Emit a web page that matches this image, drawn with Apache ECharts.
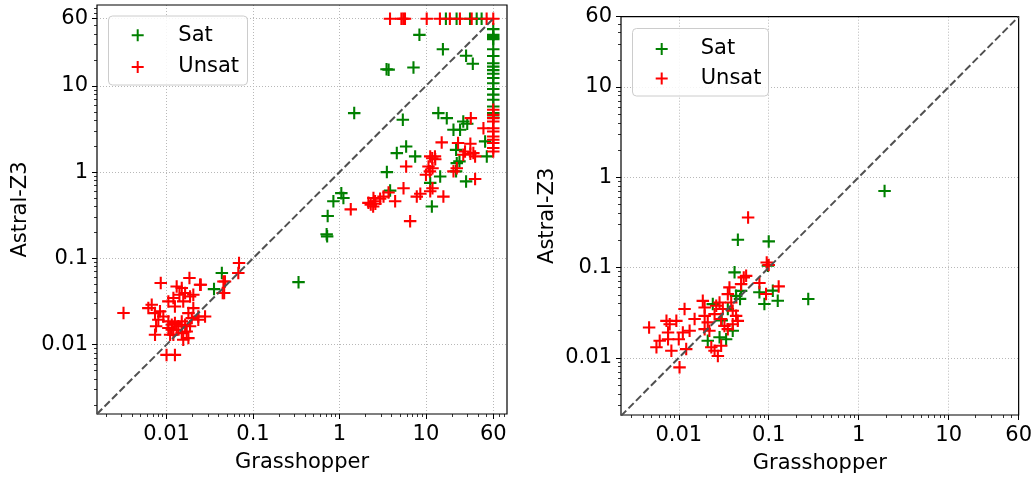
<!DOCTYPE html>
<html>
<head>
<meta charset="utf-8">
<script src="https://cdn.jsdelivr.net/npm/echarts@6/dist/echarts.min.js"></script>
<style>html,body{margin:0;padding:0;background:#fff;}#c{width:1035px;height:479px;}</style>
</head>
<body>
<div id="c"></div>
<script>
// ---------- data ----------
const majorTicks = [0.01, 0.1, 1, 10, 60];
const minorTicks = [0.002,0.003,0.004,0.005,0.006,0.007,0.008,0.009,
  0.02,0.03,0.04,0.05,0.06,0.07,0.08,0.09,
  0.2,0.3,0.4,0.5,0.6,0.7,0.8,0.9,
  2,3,4,5,6,7,8,9,
  20,30,40,50,70,80];
const seriesNames = ['Sat', 'Unsat'];
const axisTitleX = 'Grasshopper';
const axisTitleY = 'Astral-Z3';

const leftSat = [
  [17,60],[22.6,60],[32.3,60],[38.6,60],[44,60],
  [60,45.4],[60,39],[60,36.7],[60,34.8],[60,26.6],[60,22.2],[60,18.3],[60,16.7],[60,15.2],
  [60,13.8],[60,12.3],[60,10.7],[60,9.2],[60,7.9],[60,6.9],[60,5.75],[60,4.83],[60,4.3],
  [8.4,39],[15.7,26.6],[29.1,22.3],[34.8,18],[3.5,15.6],[3.7,15.4],[7.17,16.3],
  [1.48,4.83],[5.4,4.04],[13.9,4.83],[17.4,4.22],[20.8,3.09],[24.8,3.09],[27,3.86],[30,3.63],
  [5.9,1.98],[4.6,1.66],[7.5,1.52],[3.53,1.0],[3.85,0.61],[1.05,0.57],[1.11,0.5],[0.85,0.46],
  [0.73,0.31],[0.71,0.19],[0.72,0.18],[0.336,0.053],[0.0436,0.0676],[0.0354,0.044],
  [11.2,0.75],[11.7,0.4],[14.6,0.89],[22.3,1.81],[22.7,1.27],[24.4,1.33],[22.3,1.02],
  [29.1,0.78],[50.5,1.52],[48.3,2.27]
];
const leftUnsat = [
  [3.84,60],[5.2,60],[5.46,60],[5.72,60],[10.2,60],[14.5,60],[18.9,60],[24.7,60],[33.8,60],[50.3,60],[60,60],
  [60,5.27],[60,4.61],[60,4.22],[60,3.86],[60,3.23],[60,2.96],[60,2.59],[60,2.37],[60,2.17],[60,1.9],[60,1.73],
  [46.2,3.23],[33,4.22],[15.2,2.21],[23.5,2.17],[32.6,2.13],[28.3,1.73],[35.3,1.66],[27,1.59],[32.6,1.63],
  [37,1.52],[11.2,1.52],[12.7,1.52],[12.8,1.41],[11.8,1.45],[10.7,1.16],[11.9,1.11],[10,0.93],[20.8,1.02],
  [22.7,1.11],[37,0.83],[5.9,1.16],[5.5,0.65],[6.56,0.27],[7.83,0.52],[8.6,0.56],[11.2,0.6],[11.9,0.65],
  [15.9,0.52],[4.4,0.46],[3.69,0.58],[3.23,0.52],[2.95,0.49],[2.58,0.46],[2.47,0.5],[2.3,0.42],[2.45,0.4],
  [2.6,0.43],[2.16,0.44],[1.35,0.37],[11.1,1.02],
  [0.00318,0.0233],[0.00857,0.0517],[0.0184,0.0591],[0.0244,0.0494],[0.0689,0.0882],[0.0474,0.054],
  [0.0446,0.0396],[0.0676,0.0676],[0.0131,0.0472],[0.015,0.0453],[0.0141,0.0379],[0.0164,0.0396],
  [0.0187,0.0362],[0.0204,0.0379],[0.012,0.0347],[0.0105,0.0317],[0.0125,0.0277],[0.0156,0.0317],
  [0.00616,0.0265],[0.00674,0.029],[0.00736,0.0232],[0.0084,0.0243],[0.00918,0.0212],[0.00804,0.0194],
  [0.00757,0.0163],[0.00736,0.013],[0.0105,0.0186],[0.0115,0.017],[0.0125,0.0178],[0.0137,0.0163],
  [0.015,0.0186],[0.0164,0.017],[0.0131,0.0149],[0.0115,0.0149],[0.0105,0.0156],[0.015,0.0136],
  [0.0171,0.0142],[0.0187,0.0163],[0.0196,0.0203],[0.0179,0.0232],[0.0204,0.0265],[0.0233,0.0212],
  [0.0279,0.0212],[0.0179,0.0119],[0.0156,0.0114],[0.012,0.013],[0.011,0.013],[0.01,0.0076],
  [0.0125,0.0076],[0.0249,0.0494],[0.0233,0.0194],[0.0455,0.054],[0.0464,0.0396]
];
const rightSat = [
  [1.94,0.706],[0.0454,0.203],[0.1,0.195],[0.0417,0.0885],[0.275,0.0449],[0.0788,0.0532],
  [0.0895,0.0395],[0.126,0.043],[0.111,0.0555],[0.0493,0.0552],[0.0434,0.0486],[0.0239,0.0394],
  [0.0351,0.0347],[0.0398,0.02],[0.021,0.0155],[0.0284,0.0169],[0.0336,0.0161],[0.098,0.105],
  [0.03,0.026],[0.048,0.045]
];
const rightUnsat = [
  [0.059,0.358],[0.095,0.114],[0.1,0.107],[0.0528,0.0778],[0.0788,0.0675],[0.129,0.0619],[0.0934,0.0509],
  [0.00468,0.0217],[0.0073,0.0257],[0.00793,0.0236],[0.0094,0.0257],[0.0076,0.0191],[0.0076,0.0161],
  [0.00614,0.0155],[0.00565,0.0131],[0.00828,0.012],[0.0102,0.00785],[0.01,0.0161],[0.0121,0.0125],
  [0.0111,0.0191],[0.0132,0.02],[0.0116,0.0347],[0.015,0.0269],[0.0185,0.0428],[0.0194,0.0362],
  [0.0194,0.0292],[0.021,0.0247],[0.0194,0.0208],[0.0219,0.02],[0.023,0.0131],[0.025,0.012],
  [0.0272,0.0105],[0.0296,0.0136],[0.025,0.0305],[0.0261,0.0377],[0.0284,0.0411],[0.0309,0.0347],
  [0.0296,0.0269],[0.0322,0.0226],[0.0351,0.0208],[0.0366,0.0603],[0.0351,0.0508],[0.0383,0.0411],
  [0.0398,0.0332],[0.0434,0.0292],[0.0453,0.0257],[0.0398,0.0236],[0.0561,0.081],[0.0493,0.0655]
];
const leftRange = [0.00157, 86.5];
const rightRangeX = [0.00228, 60];
const rightRangeY = [0.00233, 60];
const diagLeft = [[0.00157, 0.00157], [60, 60]];
const diagRight = [[0.00228, 0.00228], [60, 60]];

// ---------- styling ----------
const FONT = 'DejaVu Sans';
const PLUS = 'path://M5,0H7V5H12V7H7V12H5V7H0V5H5Z';
const GREEN = '#008000', RED = '#ff0000';
const fmt = v => String(+(+v).toPrecision(6));

function mainAxis(dim, gridIndex, range, name, nameGap) {
  return {
    type: 'log', logBase: 10, gridIndex, min: range[0], max: range[1], z: 0,
    position: dim === 'x' ? 'bottom' : 'left',
    name, nameLocation: 'middle', nameGap,
    nameTextStyle: { fontSize: 21, fontFamily: FONT, color: '#000' },
    axisLine: { show: false },
    axisTick: { show: true, length: 5, inside: false, customValues: majorTicks, lineStyle: { color: '#000', width: 1 } },
    axisLabel: { show: true, customValues: majorTicks, formatter: fmt, margin: dim === 'x' ? 10 : 9,
      fontSize: 21, fontFamily: FONT, color: '#000' },
    splitLine: { show: true, lineStyle: { color: '#b8b8b8', width: 1, type: [1, 2] } },
    minorTick: { show: false }, minorSplitLine: { show: false }
  };
}
function minorAxis(dim, gridIndex, range) {
  return {
    type: 'log', logBase: 10, gridIndex, min: range[0], max: range[1], z: 0,
    position: dim === 'x' ? 'bottom' : 'left',
    axisLine: { show: false },
    axisTick: { show: true, length: 3, inside: false, customValues: minorTicks, lineStyle: { color: '#000', width: 0.8 } },
    axisLabel: { show: false },
    splitLine: { show: false }
  };
}
function scatter(name, data, xi, yi, color) {
  return { type: 'scatter', name, data, xAxisIndex: xi, yAxisIndex: yi,
    symbol: PLUS, symbolSize: 12.5, itemStyle: { color, opacity: 1 }, z: 2, silent: true };
}
function diag(data, xi, yi) {
  return { type: 'line', data, xAxisIndex: xi, yAxisIndex: yi, symbol: 'none', silent: true, z: 3,
    clip: true, lineStyle: { color: '#505050', width: 2, type: [7.4, 3.2] } };
}
function legend(markerX, top, gap, textPad) {
  return { orient: 'vertical', left: markerX - 6, top, itemWidth: 12, itemHeight: 12, itemGap: gap, padding: 0,
    selectedMode: false, z: 12,
    textStyle: { fontSize: 21, fontFamily: FONT, color: '#000', padding: [0, 0, 0, textPad] },
    data: seriesNames.map(n => ({ name: n, icon: PLUS })) };
}

const chart = echarts.init(document.getElementById('c'), null, { renderer: 'canvas' });
chart.setOption({
  animation: false,
  backgroundColor: '#fff',
  grid: [
    { left: 97, top: 5, width: 410, height: 409, show: true, z: 1, borderColor: '#000', borderWidth: 1.2, backgroundColor: 'transparent' },
    { left: 621, top: 16.7, width: 399.5, height: 399.3, show: true, z: 1, borderColor: '#000', borderWidth: 1.2, backgroundColor: 'transparent' }
  ],
  xAxis: [
    mainAxis('x', 0, leftRange, axisTitleX, 38),
    minorAxis('x', 0, leftRange),
    mainAxis('x', 1, rightRangeX, axisTitleX, 38),
    minorAxis('x', 1, rightRangeX)
  ],
  yAxis: [
    mainAxis('y', 0, leftRange, axisTitleY, 66),
    minorAxis('y', 0, leftRange),
    mainAxis('y', 1, rightRangeY, axisTitleY, 63),
    minorAxis('y', 1, rightRangeY)
  ],
  legend: [ legend(137.7, 24.7, 10.8, 29.6), legend(661.7, 38.5, 8.4, 28) ],
  graphic: [
    { type: 'rect', shape: { x: 108.5, y: 16, width: 139, height: 69, r: 4 }, z: 10,
      style: { fill: 'rgba(255,255,255,0.85)', stroke: '#cccccc', lineWidth: 1 } },
    { type: 'rect', shape: { x: 632.5, y: 28.5, width: 136, height: 67.5, r: 4 }, z: 10,
      style: { fill: 'rgba(255,255,255,0.85)', stroke: '#cccccc', lineWidth: 1 } }
  ],
  series: [
    scatter('Sat', leftSat, 0, 0, GREEN),
    scatter('Unsat', leftUnsat, 0, 0, RED),
    diag(diagLeft, 0, 0),
    scatter('Sat', rightSat, 2, 2, GREEN),
    scatter('Unsat', rightUnsat, 2, 2, RED),
    diag(diagRight, 2, 2)
  ]
});
</script>
</body>
</html>
